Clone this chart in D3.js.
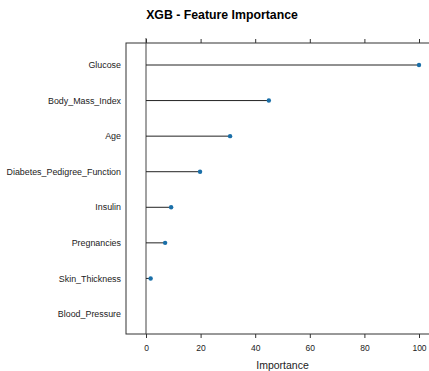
<!DOCTYPE html>
<html>
<head>
<meta charset="utf-8">
<script src="https://cdn.jsdelivr.net/npm/d3@7"></script>
<style>
  body { margin: 0; background: #fff; }
  text { font-family: "Liberation Sans", Arial, sans-serif; }
</style>
</head>
<body>
<script>
// feature importance values
const features = ["Glucose", "Body_Mass_Index", "Age", "Diabetes_Pedigree_Function",
                  "Insulin", "Pregnancies", "Skin_Thickness", "Blood_Pressure"];
const importance = [100, 45, 30.8, 19.8, 9.2, 7.0, 1.7, 0];
const ticks = [0, 20, 40, 60, 80, 100];

const w = 429, h = 371;
const svg = d3.select("body").append("svg")
    .attr("width", w)
    .attr("height", h);

let boxTop = 43, boxBottom = 334, boxLeft = 126;

// horizontal scale, box runs off the right edge
const xScale = d3.scaleLinear()
    .domain([0, 100])
    .range([146, 419]);

const yScale = d3.scalePoint()
    .domain(features)
    .range([65, 314]);

const boxRight = xScale(107.5);

// title
svg.append("text")
    .attr("x", 222)
    .attr("y", 19)
    .attr("text-anchor", "middle")
    .attr("font-size", "12.3px")
    .attr("font-weight", "bold")
    .text("XGB - Feature Importance");

// box
svg.append("rect")
    .attr("x", boxLeft)
    .attr("y", boxTop)
    .attr("width", boxRight - boxLeft)
    .attr("height", boxBottom - boxTop)
    .attr("fill", "none")
    .attr("stroke", "#333")
    .attr("stroke-width", 1);

// zero line
svg.append("line")
    .attr("x1", xScale(0)).attr("x2", xScale(0))
    .attr("y1", boxTop - 5).attr("y2", boxBottom)
    .attr("stroke", "#444");

// top and bottom axes
svg.append("g")
    .attr("transform", "translate(0," + boxTop + ")")
    .call(d3.axisTop(xScale).tickValues(ticks).tickSize(4).tickFormat(""))
    .call(g => g.select(".domain").remove())
    .call(g => g.selectAll("line").attr("stroke", "#333"));

svg.append("g")
    .attr("transform", "translate(0," + boxBottom + ")")
    .call(d3.axisBottom(xScale).tickValues(ticks).tickSize(4).tickPadding(7))
    .call(g => g.select(".domain").remove())
    .call(g => g.selectAll("line").attr("stroke", "#333"))
    .call(g => g.selectAll("text").attr("font-size", "8.5px").attr("fill", "#222")
        .attr("font-family", "Liberation Sans, Arial, sans-serif"));

svg.append("text")
    .attr("text-anchor", "middle")
    .attr("x", xScale(50))
    .attr("y", 369)
    .attr("font-size", "10.5px")
    .attr("fill", "#222")
    .text("Importance");

// labels
svg.selectAll(".lab")
    .data(features)
    .enter()
    .append("text")
    .attr("class", "lab")
    .attr("x", 121)
    .attr("y", d => yScale(d))
    .attr("dy", "0.35em")
    .attr("text-anchor", "end")
    .attr("font-size", "8.9px")
    .attr("fill", "#222")
    .text(d => d);

// stems
svg.selectAll(".stem")
    .data(importance)
    .enter()
    .append("line")
    .attr("class", "stem")
    .attr("x1", xScale(0))
    .attr("x2", d => xScale(d))
    .attr("y1", (d, i) => yScale(features[i]))
    .attr("y2", (d, i) => yScale(features[i]))
    .attr("stroke", "#222")
    .attr("stroke-width", 1);

// dots
svg.selectAll(".dot")
    .data(importance.filter(d => d > 0))
    .enter()
    .append("circle")
    .attr("class", "dot")
    .attr("cx", d => xScale(d))
    .attr("cy", (d, i) => yScale(features[i]))
    .attr("r", 2.2)
    .attr("fill", "#1a6fa8");
</script>
</body>
</html>
